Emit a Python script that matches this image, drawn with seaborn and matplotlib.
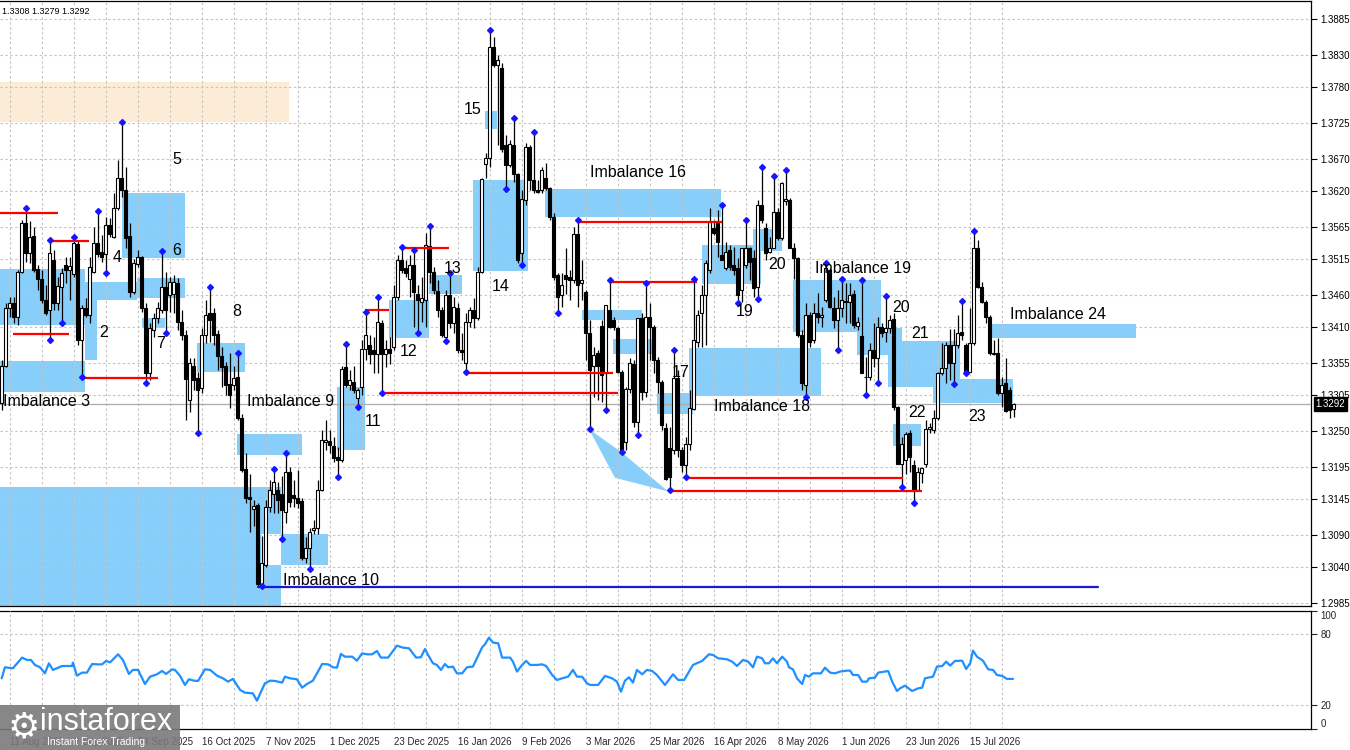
import numpy as np
import pandas as pd
import matplotlib
matplotlib.use("Agg")
import matplotlib.pyplot as plt
import matplotlib.transforms as mtransforms
from matplotlib.patches import Rectangle, Polygon
import seaborn as sns

sns.set_theme(style="white")
plt.rcParams['font.family'] = ['Liberation Sans', 'DejaVu Sans']

# ---------------- data: daily candles (bar index 0 = 7 Aug 2025) ----------------
open_ = [1.3293, 1.3351, 1.3440, 1.3447, 1.3426, 1.3495, 1.3570, 1.3524, 1.3551, 1.3500,
         1.3484, 1.3452, 1.3437, 1.3514, 1.3447, 1.3472, 1.3506, 1.3498, 1.3492, 1.3538,
         1.3390, 1.3440, 1.3429, 1.3495, 1.3540, 1.3526, 1.3523, 1.3567, 1.3549, 1.3594,
         1.3640, 1.3621, 1.3551, 1.3464, 1.3508, 1.3518, 1.3440, 1.3339, 1.3406, 1.3424,
         1.3437, 1.3472, 1.3460, 1.3461, 1.3478, 1.3418, 1.3398, 1.3298, 1.3351, 1.3332,
         1.3316, 1.3398, 1.3432, 1.3432, 1.3400, 1.3366, 1.3351, 1.3323, 1.3321, 1.3333,
         1.3270, 1.3192, 1.3149, 1.3130, 1.3136, 1.3015, 1.3043, 1.3133, 1.3153, 1.3159,
         1.3153, 1.3125, 1.3187, 1.3152, 1.3147, 1.3142, 1.3055, 1.3070, 1.3097, 1.3101,
         1.3159, 1.3233, 1.3235, 1.3227, 1.3210, 1.3205, 1.3348, 1.3321, 1.3326, 1.3301,
         1.3318, 1.3377, 1.3382, 1.3375, 1.3369, 1.3416, 1.3369, 1.3377, 1.3379, 1.3456,
         1.3514, 1.3501, 1.3484, 1.3506, 1.3462, 1.3449, 1.3452, 1.3535, 1.3495, 1.3466,
         1.3437, 1.3395, 1.3460, 1.3416, 1.3440, 1.3375, 1.3355, 1.3418, 1.3437, 1.3424,
         1.3495, 1.3662, 1.3671, 1.3842, 1.3814, 1.3810, 1.3691, 1.3660, 1.3691, 1.3646,
         1.3524, 1.3606, 1.3688, 1.3637, 1.3621, 1.3621, 1.3640, 1.3624, 1.3580, 1.3490,
         1.3460, 1.3490, 1.3487, 1.3483, 1.3554, 1.3478, 1.3464, 1.3401, 1.3351, 1.3370,
         1.3412, 1.3339, 1.3437, 1.3421, 1.3409, 1.3341, 1.3233, 1.3315, 1.3353, 1.3264,
         1.3424, 1.3310, 1.3426, 1.3410, 1.3359, 1.3325, 1.3255, 1.3224, 1.3221, 1.3332,
         1.3221, 1.3198, 1.3230, 1.3284, 1.3387, 1.3432, 1.3460, 1.3498, 1.3563, 1.3570,
         1.3521, 1.3501, 1.3529, 1.3506, 1.3501, 1.3467, 1.3506, 1.3532, 1.3517, 1.3472,
         1.3598, 1.3563, 1.3526, 1.3532, 1.3588, 1.3547, 1.3605, 1.3606, 1.3532, 1.3517,
         1.3398, 1.3321, 1.3429, 1.3390, 1.3432, 1.3426, 1.3452, 1.3498, 1.3440, 1.3421,
         1.3440, 1.3450, 1.3449, 1.3461, 1.3412, 1.3396, 1.3334, 1.3334, 1.3375, 1.3362,
         1.3410, 1.3402, 1.3409, 1.3423, 1.3287, 1.3200, 1.3205, 1.3247, 1.3198, 1.3159,
         1.3186, 1.3200, 1.3253, 1.3252, 1.3270, 1.3339, 1.3347, 1.3382, 1.3355, 1.3382,
         1.3402, 1.3382, 1.3341, 1.3385, 1.3532, 1.3472, 1.3449, 1.3426, 1.3369, 1.3370,
         1.3309, 1.3324, 1.3313, 1.3284]
high = [1.3359, 1.3447, 1.3456, 1.3456, 1.3498, 1.3575, 1.3594, 1.3573, 1.3564, 1.3506,
        1.3498, 1.3475, 1.3544, 1.3529, 1.3487, 1.3501, 1.3518, 1.3518, 1.3549, 1.3544,
        1.3444, 1.3455, 1.3518, 1.3564, 1.3589, 1.3552, 1.3580, 1.3578, 1.3617, 1.3668,
        1.3726, 1.3657, 1.3570, 1.3515, 1.3529, 1.3520, 1.3447, 1.3416, 1.3432, 1.3449,
        1.3527, 1.3495, 1.3487, 1.3490, 1.3486, 1.3437, 1.3406, 1.3362, 1.3363, 1.3341,
        1.3409, 1.3452, 1.3472, 1.3440, 1.3406, 1.3379, 1.3356, 1.3370, 1.3351, 1.3370,
        1.3277, 1.3216, 1.3184, 1.3144, 1.3139, 1.3088, 1.3144, 1.3175, 1.3192, 1.3172,
        1.3181, 1.3216, 1.3195, 1.3175, 1.3190, 1.3147, 1.3087, 1.3101, 1.3113, 1.3175,
        1.3252, 1.3267, 1.3252, 1.3241, 1.3226, 1.3351, 1.3384, 1.3344, 1.3351, 1.3316,
        1.3390, 1.3434, 1.3398, 1.3395, 1.3456, 1.3421, 1.3390, 1.3395, 1.3475, 1.3521,
        1.3534, 1.3514, 1.3521, 1.3529, 1.3475, 1.3487, 1.3555, 1.3566, 1.3503, 1.3483,
        1.3441, 1.3467, 1.3493, 1.3456, 1.3447, 1.3401, 1.3432, 1.3441, 1.3455, 1.3503,
        1.3640, 1.3679, 1.3868, 1.3857, 1.3830, 1.3817, 1.3706, 1.3699, 1.3732, 1.3648,
        1.3621, 1.3694, 1.3691, 1.3711, 1.3637, 1.3657, 1.3663, 1.3626, 1.3586, 1.3493,
        1.3493, 1.3532, 1.3498, 1.3564, 1.3575, 1.3514, 1.3467, 1.3421, 1.3379, 1.3375,
        1.3421, 1.3444, 1.3483, 1.3426, 1.3410, 1.3344, 1.3318, 1.3362, 1.3359, 1.3424,
        1.3432, 1.3478, 1.3447, 1.3413, 1.3364, 1.3329, 1.3262, 1.3256, 1.3375, 1.3344,
        1.3226, 1.3241, 1.3313, 1.3485, 1.3437, 1.3475, 1.3514, 1.3594, 1.3575, 1.3591,
        1.3598, 1.3541, 1.3537, 1.3534, 1.3517, 1.3532, 1.3575, 1.3534, 1.3529, 1.3606,
        1.3657, 1.3570, 1.3549, 1.3643, 1.3594, 1.3634, 1.3652, 1.3609, 1.3540, 1.3518,
        1.3406, 1.3447, 1.3434, 1.3447, 1.3463, 1.3441, 1.3509, 1.3501, 1.3456, 1.3467,
        1.3484, 1.3478, 1.3478, 1.3467, 1.3426, 1.3483, 1.3364, 1.3385, 1.3416, 1.3426,
        1.3416, 1.3458, 1.3429, 1.3432, 1.3288, 1.3241, 1.3249, 1.3252, 1.3205, 1.3195,
        1.3195, 1.3267, 1.3262, 1.3282, 1.3341, 1.3385, 1.3387, 1.3408, 1.3408, 1.3429,
        1.3450, 1.3385, 1.3440, 1.3558, 1.3544, 1.3480, 1.3452, 1.3429, 1.3390, 1.3393,
        1.3333, 1.3363, 1.3318, 1.3293]
low = [1.3282, 1.3348, 1.3426, 1.3416, 1.3413, 1.3493, 1.3511, 1.3509, 1.3495, 1.3467,
       1.3447, 1.3429, 1.3390, 1.3437, 1.3437, 1.3416, 1.3478, 1.3452, 1.3487, 1.3382,
       1.3333, 1.3426, 1.3416, 1.3493, 1.3518, 1.3511, 1.3493, 1.3549, 1.3547, 1.3591,
       1.3610, 1.3532, 1.3456, 1.3462, 1.3503, 1.3433, 1.3324, 1.3329, 1.3395, 1.3416,
       1.3432, 1.3401, 1.3433, 1.3432, 1.3406, 1.3390, 1.3267, 1.3279, 1.3313, 1.3247,
       1.3309, 1.3385, 1.3387, 1.3382, 1.3344, 1.3318, 1.3305, 1.3285, 1.3313, 1.3267,
       1.3187, 1.3139, 1.3094, 1.3103, 1.3011, 1.3011, 1.3040, 1.3125, 1.3124, 1.3124,
       1.3083, 1.3108, 1.3133, 1.3133, 1.3132, 1.3051, 1.3046, 1.3037, 1.3092, 1.3092,
       1.3157, 1.3221, 1.3216, 1.3202, 1.3179, 1.3202, 1.3318, 1.3313, 1.3309, 1.3287,
       1.3305, 1.3359, 1.3353, 1.3339, 1.3339, 1.3309, 1.3348, 1.3353, 1.3375, 1.3452,
       1.3493, 1.3487, 1.3456, 1.3410, 1.3401, 1.3418, 1.3410, 1.3478, 1.3462, 1.3426,
       1.3395, 1.3389, 1.3409, 1.3401, 1.3370, 1.3359, 1.3341, 1.3410, 1.3409, 1.3421,
       1.3493, 1.3640, 1.3657, 1.3811, 1.3691, 1.3680, 1.3623, 1.3657, 1.3634, 1.3509,
       1.3506, 1.3598, 1.3621, 1.3617, 1.3617, 1.3617, 1.3621, 1.3575, 1.3483, 1.3432,
       1.3441, 1.3462, 1.3452, 1.3478, 1.3441, 1.3452, 1.3359, 1.3253, 1.3302, 1.3298,
       1.3295, 1.3282, 1.3409, 1.3406, 1.3339, 1.3218, 1.3221, 1.3309, 1.3256, 1.3244,
       1.3298, 1.3302, 1.3359, 1.3339, 1.3309, 1.3252, 1.3175, 1.3159, 1.3214, 1.3210,
       1.3187, 1.3179, 1.3221, 1.3282, 1.3379, 1.3379, 1.3382, 1.3493, 1.3552, 1.3518,
       1.3514, 1.3498, 1.3498, 1.3490, 1.3447, 1.3449, 1.3501, 1.3483, 1.3456, 1.3453,
       1.3570, 1.3514, 1.3524, 1.3532, 1.3544, 1.3544, 1.3598, 1.3532, 1.3484, 1.3395,
       1.3313, 1.3302, 1.3379, 1.3385, 1.3416, 1.3410, 1.3449, 1.3440, 1.3409, 1.3375,
       1.3426, 1.3416, 1.3416, 1.3409, 1.3406, 1.3339, 1.3305, 1.3329, 1.3348, 1.3324,
       1.3395, 1.3387, 1.3401, 1.3282, 1.3200, 1.3164, 1.3184, 1.3187, 1.3139, 1.3159,
       1.3170, 1.3195, 1.3247, 1.3247, 1.3267, 1.3336, 1.3324, 1.3329, 1.3322, 1.3378,
       1.3390, 1.3339, 1.3341, 1.3382, 1.3470, 1.3447, 1.3416, 1.3367, 1.3367, 1.3305,
       1.3287, 1.3280, 1.3270, 1.3272]
close = [1.3351, 1.3440, 1.3447, 1.3426, 1.3495, 1.3570, 1.3524, 1.3549, 1.3498, 1.3484,
         1.3452, 1.3432, 1.3524, 1.3447, 1.3473, 1.3493, 1.3498, 1.3504, 1.3540, 1.3390,
         1.3440, 1.3429, 1.3503, 1.3540, 1.3523, 1.3518, 1.3567, 1.3554, 1.3594, 1.3640,
         1.3621, 1.3547, 1.3464, 1.3509, 1.3518, 1.3440, 1.3339, 1.3409, 1.3424, 1.3440,
         1.3472, 1.3437, 1.3480, 1.3480, 1.3418, 1.3398, 1.3330, 1.3355, 1.3329, 1.3313,
         1.3398, 1.3429, 1.3421, 1.3398, 1.3365, 1.3348, 1.3321, 1.3305, 1.3332, 1.3270,
         1.3190, 1.3147, 1.3146, 1.3135, 1.3015, 1.3046, 1.3133, 1.3159, 1.3172, 1.3144,
         1.3128, 1.3187, 1.3141, 1.3147, 1.3139, 1.3055, 1.3070, 1.3094, 1.3101, 1.3159,
         1.3236, 1.3236, 1.3229, 1.3209, 1.3205, 1.3346, 1.3321, 1.3329, 1.3313, 1.3313,
         1.3377, 1.3398, 1.3369, 1.3369, 1.3418, 1.3369, 1.3377, 1.3370, 1.3456, 1.3514,
         1.3498, 1.3493, 1.3506, 1.3464, 1.3452, 1.3455, 1.3537, 1.3495, 1.3467, 1.3437,
         1.3398, 1.3460, 1.3416, 1.3441, 1.3375, 1.3372, 1.3418, 1.3437, 1.3424, 1.3495,
         1.3639, 1.3671, 1.3842, 1.3814, 1.3822, 1.3684, 1.3660, 1.3692, 1.3646, 1.3514,
         1.3608, 1.3688, 1.3637, 1.3621, 1.3618, 1.3652, 1.3624, 1.3580, 1.3487, 1.3456,
         1.3475, 1.3484, 1.3483, 1.3554, 1.3475, 1.3483, 1.3401, 1.3344, 1.3367, 1.3351,
         1.3336, 1.3444, 1.3410, 1.3410, 1.3341, 1.3218, 1.3315, 1.3355, 1.3264, 1.3424,
         1.3310, 1.3426, 1.3410, 1.3359, 1.3325, 1.3259, 1.3176, 1.3179, 1.3332, 1.3221,
         1.3198, 1.3230, 1.3285, 1.3390, 1.3429, 1.3460, 1.3509, 1.3572, 1.3555, 1.3541,
         1.3514, 1.3526, 1.3503, 1.3498, 1.3460, 1.3532, 1.3532, 1.3511, 1.3470, 1.3598,
         1.3575, 1.3524, 1.3532, 1.3588, 1.3547, 1.3632, 1.3608, 1.3532, 1.3517, 1.3398,
         1.3324, 1.3429, 1.3387, 1.3432, 1.3426, 1.3429, 1.3501, 1.3441, 1.3421, 1.3440,
         1.3452, 1.3449, 1.3460, 1.3413, 1.3418, 1.3339, 1.3333, 1.3375, 1.3362, 1.3410,
         1.3401, 1.3409, 1.3421, 1.3287, 1.3200, 1.3230, 1.3246, 1.3210, 1.3161, 1.3187,
         1.3193, 1.3253, 1.3256, 1.3270, 1.3339, 1.3347, 1.3382, 1.3355, 1.3382, 1.3401,
         1.3398, 1.3341, 1.3385, 1.3532, 1.3472, 1.3449, 1.3426, 1.3370, 1.3370, 1.3309,
         1.3321, 1.3281, 1.3282, 1.3292]

# bars carrying a fractal marker
fractal_high_bars = [6, 12, 18, 24, 30, 40, 52, 59, 68, 71, 86, 91, 94, 100, 103, 107, 112,
                     122, 128, 133, 144, 152, 161, 168, 173, 180, 186, 190, 193, 196, 206,
                     210, 215, 221, 240, 243]
fractal_low_bars = [12, 15, 20, 26, 36, 41, 49, 65, 70, 77, 84, 89, 95, 104, 111, 116, 126,
                    130, 139, 147, 151, 155, 159, 167, 171, 184, 189, 201, 209, 216, 219,
                    225, 228, 238, 241]

# RSI readings (bar position, value)
rsi_pos = [0, 0.8, 2.8, 5.1, 6.3, 7.3, 8.3, 9.6, 10.8, 11.8,
           12.8, 15.1, 17.6, 17.8, 18.8, 20.1, 21.3, 22.6, 23.8, 25.1,
           26.1, 27.1, 29.1, 30.3, 31.8, 32.8, 34.1, 35.8, 37.1, 38.8,
           40.1, 41.1, 42.6, 43.3, 44.6, 45.8, 46.8, 48.1, 49.1, 50.8,
           52.1, 53.8, 55.3, 56.6, 57.8, 59.6, 60.8, 62.8, 63.8, 65.8,
           67.1, 68.3, 70.1, 70.8, 72.1, 73.8, 75.1, 76.3, 77.8, 80.1,
           81.6, 82.8, 83.8, 84.8, 85.8, 87.6, 88.8, 90.1, 91.3, 92.6,
           93.8, 94.8, 96.6, 98.8, 100.3, 101.8, 103.6, 104.8, 105.8, 106.6,
           107.8, 108.8, 109.8, 110.8, 111.6, 112.8, 113.8, 115.1, 116.3, 117.8,
           120.1, 120.8, 121.8, 122.8, 124.1, 125.1, 127.1, 127.8, 128.8, 130.1,
           131.1, 132.1, 133.8, 135.1, 136.1, 137.6, 138.8, 140.1, 141.6, 142.8,
           143.8, 145.1, 146.3, 147.1, 149.1, 150.8, 152.6, 153.8, 154.8, 155.8,
           156.8, 157.8, 158.8, 160.1, 161.3, 162.6, 163.8, 165.8, 167.8, 169.1,
           170.6, 172.8, 175.1, 176.8, 177.8, 179.1, 181.3, 182.6, 183.8, 185.3,
           186.6, 187.8, 188.8, 190.1, 190.8, 191.8, 192.8, 193.8, 195.1, 196.3,
           196.8, 197.8, 198.8, 200.1, 200.8, 201.8, 202.8, 204.8, 205.8, 207.1,
           208.3, 209.6, 211.3, 212.1, 212.8, 214.1, 215.1, 216.3, 216.8, 218.3,
           219.1, 221.6, 222.6, 223.8, 224.6, 225.8, 227.6, 229.1, 230.1, 230.8,
           232.8, 233.8, 235.1, 236.1, 237.1, 238.3, 240.1, 241.1, 242.1, 242.8,
           243.8, 245.3, 246.6, 247.8, 248.8, 250.1, 251.3, 252.8]
rsi_val = [42.8, 52.1, 51.3, 60.3, 58.3, 58.3, 54.1, 52.1, 47.0, 55.5,
           49.9, 53.2, 53.2, 56.1, 45.1, 47.6, 47.6, 54.9, 54.6, 54.6,
           57.5, 56.3, 63.1, 58.3, 46.5, 49.9, 49.9, 38.0, 44.2, 46.2,
           49.0, 46.5, 50.4, 49.9, 44.8, 37.2, 42.0, 40.8, 40.6, 50.4,
           49.9, 45.1, 42.8, 40.0, 42.3, 33.0, 30.7, 30.1, 23.9, 38.6,
           40.8, 40.6, 39.2, 44.2, 42.8, 42.0, 34.9, 38.0, 40.8, 54.9,
           54.6, 52.1, 51.8, 63.4, 61.1, 61.1, 57.7, 63.9, 63.1, 63.1,
           65.9, 60.3, 60.3, 70.4, 68.7, 68.2, 60.3, 60.6, 67.6, 62.5,
           55.5, 54.1, 49.9, 54.9, 52.1, 52.7, 47.0, 47.0, 52.1, 52.7,
           69.0, 71.5, 77.2, 73.0, 72.4, 60.3, 60.3, 56.9, 48.5, 54.1,
           57.5, 54.1, 54.1, 54.6, 53.2, 45.6, 41.4, 42.8, 44.2, 49.9,
           44.2, 44.2, 38.6, 37.2, 37.2, 44.8, 42.8, 40.0, 31.5, 40.8,
           43.7, 39.2, 49.9, 46.2, 49.9, 49.0, 45.6, 37.2, 46.2, 41.4,
           41.4, 54.1, 57.5, 63.1, 62.5, 59.7, 58.9, 56.9, 53.2, 58.3,
           56.9, 52.1, 61.1, 59.7, 55.5, 55.5, 59.7, 55.5, 61.1, 56.9,
           52.1, 50.4, 42.8, 38.0, 45.6, 44.2, 47.0, 47.0, 51.8, 47.6,
           47.0, 48.5, 49.3, 49.3, 45.6, 45.6, 40.0, 40.0, 42.8, 43.4,
           47.6, 49.0, 40.0, 32.1, 34.4, 36.6, 32.1, 34.4, 34.9, 42.8,
           44.2, 52.7, 53.2, 56.9, 53.5, 57.5, 57.7, 50.7, 55.5, 66.2,
           61.1, 57.7, 50.4, 49.9, 45.6, 44.8, 42.3, 42.3]

# axis labels
price_ticks = [1.3885, 1.3830, 1.3780, 1.3725, 1.3670, 1.3620, 1.3565, 1.3515, 1.3460,
               1.3410, 1.3355, 1.3305, 1.3250, 1.3195, 1.3145, 1.3090, 1.3040, 1.2985]
date_tick_bars = [2, 18, 34, 50, 66, 82, 98, 114, 130, 146, 162, 178, 194, 210, 226, 242]
date_labels = ["11 Aug 2025", "2 Sep 2025", "24 Sep 2025", "16 Oct 2025", "7 Nov 2025",
               "1 Dec 2025", "23 Dec 2025", "16 Jan 2026", "9 Feb 2026", "3 Mar 2026",
               "25 Mar 2026", "16 Apr 2026", "8 May 2026", "1 Jun 2026", "23 Jun 2026",
               "15 Jul 2026"]
rsi_ticks = [0, 20, 80, 100]
last_price = 1.3292
header_values = "1.3308 1.3279 1.3292"

# imbalance zones: (bar start, bar end, price low, price high)
zones = [(-1, 20.8, 1.3310, 1.3358), (-1, 20.8, 1.3413, 1.3500), (20.8, 23.8, 1.3359, 1.3480),
         (23.8, 33.8, 1.3452, 1.3480), (30.1, 45.8, 1.3517, 1.3617), (33.8, 45.8, 1.3455, 1.3486),
         (35.1, 40.8, 1.3409, 1.3424), (48.8, 60.8, 1.3341, 1.3385), (58.8, 75.1, 1.3213, 1.3246),
         (-1, 69.8, 1.3091, 1.3164), (-1, 64.8, 1.2970, 1.3091), (64.8, 69.8, 1.2970, 1.3043),
         (69.8, 81.6, 1.3043, 1.3091), (83.8, 90.8, 1.3221, 1.3318), (96.8, 106.8, 1.3394, 1.3452),
         (106.8, 115.1, 1.3462, 1.3490), (117.8, 131.6, 1.3497, 1.3637), (120.8, 123.8, 1.3716, 1.3743),
         (135.8, 179.8, 1.3580, 1.3623), (145.1, 160.1, 1.3421, 1.3437), (152.8, 162.8, 1.3369, 1.3392),
         (163.8, 172.8, 1.3276, 1.3309), (171.8, 204.8, 1.3304, 1.3378), (175.1, 189.8, 1.3477, 1.3537),
         (187.8, 195.1, 1.3527, 1.3561), (197.8, 219.8, 1.3403, 1.3483), (213.8, 221.8, 1.3367, 1.3403),
         (219.6, 225.1, 1.3367, 1.3409), (221.6, 239.6, 1.3318, 1.3389), (222.8, 229.8, 1.3227, 1.3261),
         (232.8, 252.8, 1.3293, 1.3330), (247.1, 283.6, 1.3394, 1.3415)]
supply_zone = (-1, 71.8, 1.3726, 1.3788)

# red levels: (bar start, bar end, price)
levels = [(-1, 14.1, 1.3586), (11.8, 21.8, 1.3543), (2.8, 16.8, 1.3400), (19.8, 39.1, 1.3332),
          (90.8, 96.8, 1.3437), (99.8, 111.8, 1.3532), (94.8, 154.1, 1.3309), (115.8, 152.8, 1.3340),
          (143.8, 180.1, 1.3572), (151.8, 173.8, 1.3480), (170.8, 225.3, 1.3178), (166.6, 230.1, 1.3157)]
support_level = (64.1, 274.1, 1.3010)
wedge_bars = [146.8, 154.8, 166.6, 153.3]
wedge_prices = [1.3253, 1.3218, 1.3157, 1.3178]

labels = [("Imbalance 3", 0.3, 1.3296, "left"), ("2", 25.6, 1.3402, "center"),
          ("4", 28.8, 1.3517, "center"), ("5", 43.8, 1.3668, "center"),
          ("6", 43.8, 1.3529, "center"), ("7", 39.8, 1.3385, "center"),
          ("8", 58.8, 1.3435, "center"), ("Imbalance 9", 61.3, 1.3296, "left"),
          ("Imbalance 10", 70.3, 1.3020, "left"), ("11", 92.8, 1.3265, "center"),
          ("12", 101.8, 1.3372, "center"), ("13", 112.8, 1.3501, "center"),
          ("14", 124.8, 1.3473, "center"), ("15", 117.8, 1.3746, "center"),
          ("Imbalance 16", 147.1, 1.3649, "left"), ("17", 169.8, 1.3341, "center"),
          ("Imbalance 18", 178.1, 1.3288, "left"), ("19", 185.8, 1.3435, "center"),
          ("20", 193.8, 1.3506, "center"), ("Imbalance 19", 203.3, 1.3501, "left"),
          ("20", 224.8, 1.3440, "center"), ("21", 229.6, 1.3401, "center"),
          ("22", 228.8, 1.3279, "center"), ("23", 243.8, 1.3273, "center"),
          ("Imbalance 24", 252.1, 1.3429, "left")]

# ---------------- figure ----------------
W, H = 1350, 750
fig = plt.figure(figsize=(13.5, 7.5), dpi=100)
fig.patch.set_facecolor("white")
ax = fig.add_axes([0, 1 - 606 / H, 1311 / W, (606 - 1) / H])
ax2 = fig.add_axes([0, 1 - 729 / H, 1311 / W, (729 - 610.6) / H])

xmin, xmax = -0.425, 327.3
for a in (ax, ax2):
    a.set_facecolor("white")
    a.set_xlim(xmin, xmax)
ax.set_ylim(1.29804, 1.39128)
ax2.set_ylim(0, 100)

df = pd.DataFrame({"o": open_, "h": high, "l": low, "c": close})
df["bar"] = np.arange(len(df))
up = df["c"] >= df["o"]

zone_col = "#87CEFA"
for x0, x1, p0, p1 in zones:
    ax.add_patch(Rectangle((x0, p0), x1 - x0, p1 - p0, facecolor=zone_col,
                           edgecolor="none", zorder=1))
sx0, sx1, sp0, sp1 = supply_zone
ax.add_patch(Rectangle((sx0, sp0), sx1 - sx0, sp1 - sp0, facecolor="#FCEBD5",
                       edgecolor="none", zorder=1))
ax.add_patch(Polygon(np.column_stack([wedge_bars, wedge_prices]), closed=True,
                     facecolor=zone_col, edgecolor="none", zorder=1))

# grid
grid_kw = dict(color="#C4C4C4", linestyle=(0, (2.2, 2.2)), linewidth=0.8)
ax.set_axisbelow(False)
ax2.set_axisbelow(False)
ax.set_xticks(date_tick_bars)
ax.set_xticks([b + 8 for b in date_tick_bars], minor=True)
ax.set_yticks(price_ticks)
ax.grid(True, which="both", **grid_kw)
ax.tick_params(axis="x", which="both", length=0, labelbottom=False)

# candles
ax.vlines(df["bar"], df["l"], df["h"], color="black", linewidth=0.9, zorder=3)
ax.bar(df["bar"][up], (df["c"] - df["o"])[up], bottom=df["o"][up], width=0.68,
       color="white", edgecolor="black", linewidth=0.8, zorder=4)
ax.bar(df["bar"][~up], (df["o"] - df["c"])[~up], bottom=df["c"][~up], width=0.68,
       color="black", edgecolor="black", linewidth=0.8, zorder=4)

# bid line
ax.axhline(last_price, color="#ABABAB", linewidth=0.9, zorder=2.6)

# levels
for x0, x1, p in levels:
    ax.plot([x0, x1], [p, p], color="#FF0000", linewidth=1.6, zorder=5,
            solid_capstyle="butt")
bx0, bx1, bp = support_level
ax.plot([bx0, bx1], [bp, bp], color="#1A1AD2", linewidth=1.6, zorder=5)

# fractal markers
ax.plot(fractal_high_bars, df["h"].iloc[fractal_high_bars], linestyle="none", marker="D",
        markersize=3.0, color="#1515FF", zorder=6)
ax.plot(fractal_low_bars, df["l"].iloc[fractal_low_bars], linestyle="none", marker="D",
        markersize=3.0, color="#1515FF", zorder=6)

# text labels
for txt, xb, yp, ha in labels:
    ax.text(xb, yp, txt, ha=ha, va="center", fontsize=11.5, color="black", zorder=7,
            family=["Liberation Sans", "DejaVu Sans"])

# price axis
ax.yaxis.tick_right()
ax.set_yticklabels([f"{v:.4f}" for v in price_ticks])
ax.tick_params(axis="y", which="major", length=4, width=0.8, color="black",
               labelsize=7, pad=3, labelcolor="black", direction="out")
ax.spines["left"].set_visible(False)
for s in ["right", "bottom", "top"]:
    ax.spines[s].set_color("black")
    ax.spines[s].set_linewidth(0.9)

# current price tag
trans = mtransforms.blended_transform_factory(ax.transAxes, ax.transData)
ax.text(1.0035, last_price, f"{last_price:.4f}", transform=trans, ha="left", va="center",
        fontsize=7, color="white", zorder=10, clip_on=False,
        bbox=dict(boxstyle="square,pad=0.18", facecolor="black", edgecolor="black"))

# header
fig.text(2 / W, 1 - 11 / H, header_values, fontsize=6.5, ha="left", va="center",
         color="black", zorder=12,
         bbox=dict(boxstyle="square,pad=0.1", facecolor="white", edgecolor="none"))

# ---------------- RSI panel ----------------
sns.lineplot(x=rsi_pos, y=rsi_val, ax=ax2, color="#1E90FF", linewidth=1.6,
             estimator=None, sort=True, legend=False, zorder=4)
ax2.set_xlabel("")
ax2.set_ylabel("")
ax2.set_xticks(date_tick_bars)
ax2.set_xticklabels(date_labels, fontsize=7, ha="left")
ax2.set_xticks([b + 8 for b in date_tick_bars], minor=True)
ax2.grid(True, axis="x", which="both", **grid_kw)
for lv in (20, 80):
    ax2.axhline(lv, zorder=2, **grid_kw)
ax2.yaxis.tick_right()
ax2.set_yticks(rsi_ticks)
ax2.set_yticklabels([str(v) for v in rsi_ticks])
for lab, v in zip(ax2.get_yticklabels(), rsi_ticks):
    if v == 100:
        lab.set_va("top")
    elif v == 0:
        lab.set_va("bottom")
ax2.tick_params(axis="y", length=4, width=0.8, labelsize=7, pad=3, direction="out")
ax2.tick_params(axis="x", which="major", length=4, width=0.8, pad=2, direction="out")
ax2.tick_params(axis="x", which="minor", length=0)
ax2.spines["left"].set_visible(False)
for s in ["right", "bottom", "top"]:
    ax2.spines[s].set_color("black")
    ax2.spines[s].set_linewidth(0.9)

# ---------------- watermark logo ----------------
fig.patches.append(Rectangle((0, 0), 180 / W, 45 / H, transform=fig.transFigure,
                             facecolor="#7A7A7A", edgecolor="none", alpha=0.9, zorder=20))
fig.text(8 / W, 1 - 727 / H, "\u2699", fontsize=26, color="white", ha="left", va="center",
         family=["DejaVu Sans"], zorder=21)
fig.text(40 / W, 1 - 722 / H, "instaforex", fontsize=22, color="white", ha="left",
         va="center", zorder=21)
fig.text(47 / W, 1 - 742 / H, "Instant Forex Trading", fontsize=7.5, color="white",
         ha="left", va="center", zorder=21)

fig.savefig("out.png", dpi=100, facecolor="white")
